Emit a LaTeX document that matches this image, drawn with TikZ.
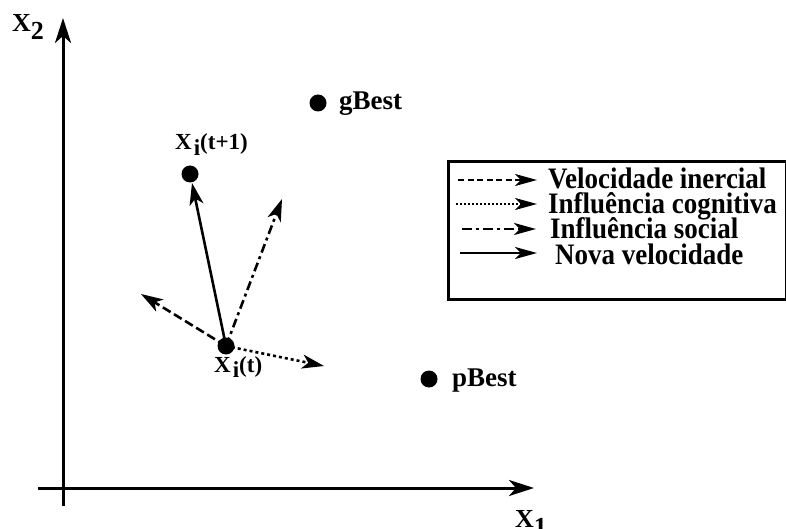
\documentclass[tikz,border=0pt]{standalone}
\usepackage{fontspec}
\setmainfont{Liberation Serif}
\usetikzlibrary{arrows.meta}
\newcommand{\tallr}[1]{\scalebox{1}[1.1]{#1}}
\begin{document}
\begin{tikzpicture}[x=1pt,y=-1pt,
  axis/.style={line width=3pt,-{Stealth[length=25pt,width=16pt,inset=7pt]}},
  vec/.style={line width=2.6pt,-{Stealth[length=22pt,width=14pt,inset=6pt]}},
  legarr/.style={line width=2.6pt,-{Stealth[length=22pt,width=12pt,inset=6pt]}},
  dotpt/.style={circle,fill=black,inner sep=0pt,minimum size=17pt},
  axlbl/.style={font=\bfseries\fontsize{26}{28}\selectfont,anchor=base west,inner sep=0pt},
  ptlbl/.style={font=\bfseries\fontsize{23}{25}\selectfont,anchor=base west,inner sep=0pt},
  lbl/.style={font=\bfseries\fontsize{27}{29}\selectfont,anchor=base west,inner sep=0pt},
  leg/.style={font=\bfseries\fontsize{27}{29}\selectfont,anchor=base west,inner sep=0pt},
  dsh/.style={dash pattern=on 9pt off 4pt},
  dtt/.style={dash pattern=on 3pt off 3pt},
  dshdt/.style={dash pattern=on 9pt off 4pt on 3pt off 4pt}]
\useasboundingbox (0,0) rectangle (786,529);
% axes
\coordinate (ybot) at (63,506);
\coordinate (ytop) at (63,18);
\coordinate (xl) at (38,488);
\coordinate (xr) at (534,488);
\draw[axis] (ybot) -- (ytop);
\draw[axis] (xl) -- (xr);
\node[axlbl] (x2) at (12,32) {X\raisebox{-8pt}{2}};
\node[axlbl] (x1) at (515,527) {X\raisebox{-8pt}{1}};
% points
\node[dotpt] (gb) at (318,103) {};
\node[lbl] (gbl) at (339,110) {gBest};
\node[dotpt] (xn) at (190,174) {};
\node[ptlbl] (xnl) at (175,150) {X\hspace{2pt}\raisebox{-6pt}{i}(t+1)};
\node[dotpt] (xt) at (226,346) {};
\node[ptlbl] (xtl) at (214,372) {X\hspace{2pt}\raisebox{-5pt}{i}(t)};
\node[dotpt] (pb) at (429,379) {};
\node[lbl] (pbl) at (452,386) {pBest};
% vectors
\coordinate (tdash) at (141,294);
\coordinate (tdot) at (324,366);
\coordinate (tsoc) at (282,199);
\coordinate (tsol) at (192,183);
\draw[vec,dsh] (xt.center) -- (tdash);
\draw[vec,dtt] (xt.center) -- (tdot);
\draw[vec,dshdt] (xt.center) -- (tsoc);
\draw[vec] (xt.center) -- (tsol);
% legend
\node[draw,line width=3pt,minimum width=338pt,minimum height=138pt,anchor=north west,inner sep=0pt] (box) at (447,160) {};
\coordinate (a1) at (458,180); \coordinate (b1) at (537,180);
\coordinate (a2) at (456,204); \coordinate (b2) at (537,204);
\coordinate (a3) at (462,229); \coordinate (b3) at (536,229);
\coordinate (a4) at (460,253); \coordinate (b4) at (537,253);
\draw[legarr,dash pattern=on 6pt off 3.5pt] (a1) -- (b1);
\draw[legarr,dash pattern=on 2pt off 2pt] (a2) -- (b2);
\draw[legarr,dash pattern=on 10pt off 4pt on 3pt off 4pt] (a3) -- (b3);
\draw[legarr] (a4) -- (b4);
\node[leg] (l1) at (548,189) {\tallr{Velocidade inercial}};
\node[leg] (l2) at (548,214) {\tallr{Influência cognitiva}};
\node[leg] (l3) at (550,239) {\tallr{Influência social}};
\node[leg] (l4) at (555,264) {\tallr{Nova velocidade}};
\end{tikzpicture}
\end{document}
